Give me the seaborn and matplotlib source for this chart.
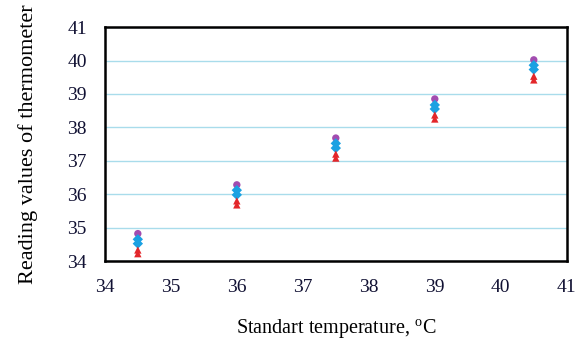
import numpy as np
import pandas as pd
import seaborn as sns
import matplotlib.pyplot as plt

# standard temperatures (x) and thermometer readings (5 series)
standard_temp = [34.5, 36.0, 37.5, 39.0, 40.5]
reading_1 = [34.82, 36.28, 37.68, 38.85, 40.02]   # purple circles
reading_2 = [34.65, 36.12, 37.52, 38.67, 39.86]   # blue diamonds
reading_3 = [34.52, 35.98, 37.38, 38.55, 39.73]   # blue diamonds
reading_4 = [34.33, 35.80, 37.20, 38.37, 39.53]   # red triangles
reading_5 = [34.22, 35.68, 37.08, 38.25, 39.42]   # red triangles

series_names = ["s1", "s2", "s3", "s4", "s5"]
series_vals = [reading_1, reading_2, reading_3, reading_4, reading_5]

df = pd.DataFrame({
    "x": standard_temp * len(series_names),
    "y": np.concatenate(series_vals),
    "series": np.repeat(series_names, len(standard_temp)),
})

sns.set_theme(style="white")
plt.rcParams["font.family"] = ["Liberation Serif", "DejaVu Serif"]
plt.rcParams["mathtext.fontset"] = "custom"
plt.rcParams["mathtext.rm"] = "Liberation Serif"

fig = plt.figure(figsize=(5.76, 3.43), dpi=100)
ax = fig.add_axes([0.182, 0.239, 0.802, 0.682])

palette = {"s1": "#A24CB0", "s2": "#1BA1E2", "s3": "#1BA1E2",
           "s4": "#E3262A", "s5": "#E3262A"}
markers = {"s1": "o", "s2": "D", "s3": "D", "s4": "^", "s5": "^"}

ax.set_ylim(34, 41)
ax.set_xlim(34, 41)
ax.set_yticks(range(34, 42))
ax.set_xticks(range(34, 42))
ax.grid(axis="y", color="#A9DCEB", linewidth=1.0)
ax.set_axisbelow(True)

sns.scatterplot(data=df, x="x", y="y", hue="series", style="series",
                palette=palette, markers=markers, s=28, linewidth=0,
                legend=False, ax=ax, zorder=3)

for sp in ax.spines.values():
    sp.set_color("black")
    sp.set_linewidth(1.8)

ax.tick_params(axis="both", direction="in", length=5, width=1.2,
               color="black", labelsize=14, labelcolor="#111133")
ax.tick_params(axis="y", pad=13)
ax.tick_params(axis="x", pad=13)

ax.set_xlabel("Standart temperature, $^{\\mathrm{o}}$C", fontsize=14.5, labelpad=15, color="black")
ax.set_ylabel("Reading values of thermometer", fontsize=16, labelpad=21, color="black")

fig.savefig("out.png", dpi=100)
